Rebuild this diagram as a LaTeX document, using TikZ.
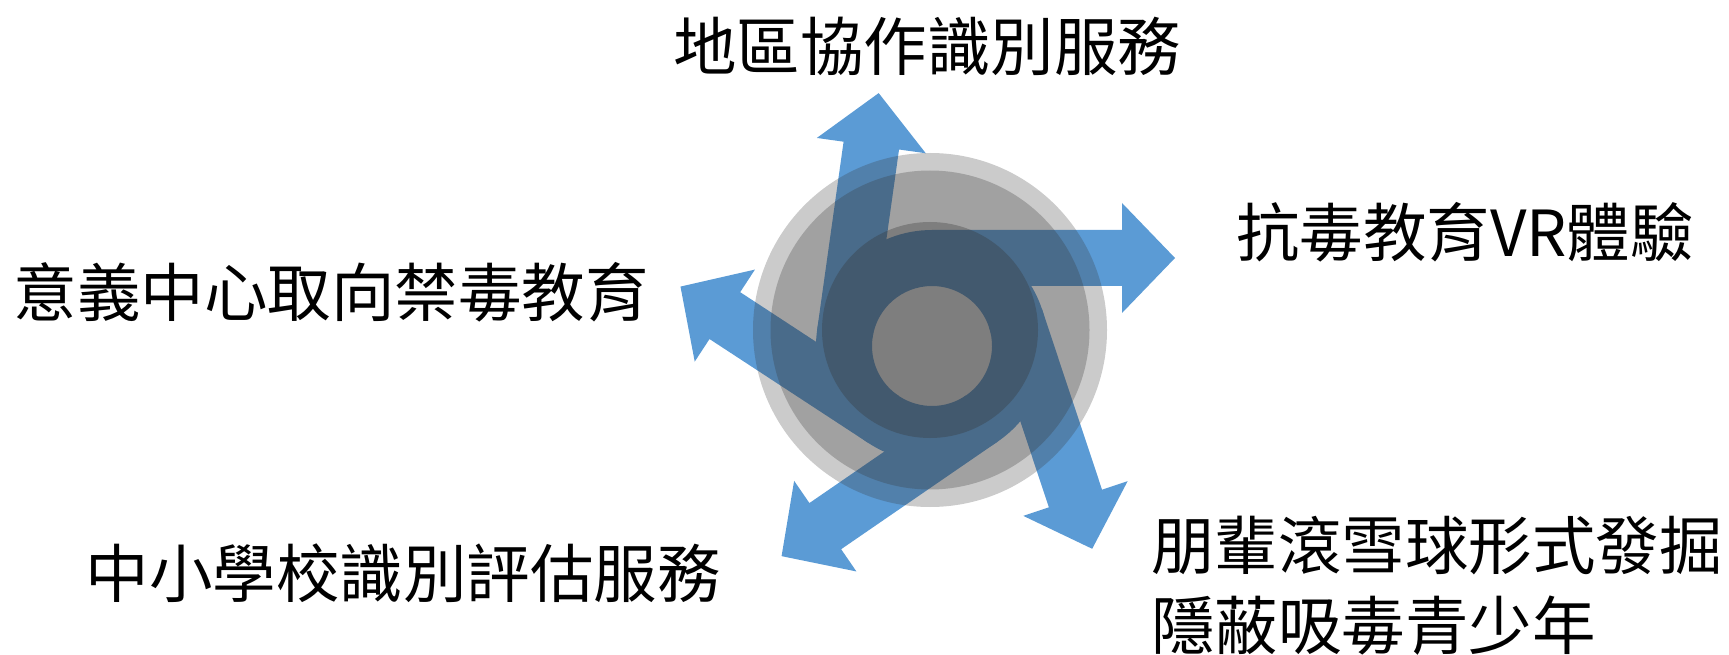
\documentclass[tikz,border=0pt]{standalone}
\usepackage{fontspec}
\newfontfamily\cjk{Noto Sans CJK TC}
\usetikzlibrary{calc}
\definecolor{armblue}{HTML}{5B9BD5}
\definecolor{shadegray}{HTML}{363636}
\tikzset{
  armfill/.style={fill=armblue},
  ring/.style={fill=shadegray},
  label/.style={font=\cjk\fontsize{63.5}{80}\selectfont, text=black, inner sep=0pt},
}
% arm geometry (px = pt)
\def\rin{60}
\def\rout{116}
\def\rmid{88}
\def\rhi{143}
\def\rlo{33}
\def\shaftlen{190}
\def\tiplen{243}
% #1 start angle of the curved part, #2 tangent angle where the straight shaft begins
\newcommand\pinarm[2]{%
  \pgfmathsetmacro\dirang{#2-90}%
  \fill[armfill] ($(C)+(#1:\rout)$) arc[start angle=#1, end angle=#2, radius=\rout]
    -- ($(C)+(#2:\rout)+(\dirang:\shaftlen)$)
    -- ($(C)+(#2:\rhi)+(\dirang:\shaftlen)$)
    -- ($(C)+(#2:\rmid)+(\dirang:\tiplen)$)
    -- ($(C)+(#2:\rlo)+(\dirang:\shaftlen)$)
    -- ($(C)+(#2:\rin)+(\dirang:\shaftlen)$)
    -- ($(C)+(#2:\rin)$)
    arc[start angle=#2, end angle=#1, radius=\rin]
    -- cycle;
}
\begin{document}
\begin{tikzpicture}[x=1pt, y=1pt]
\useasboundingbox (0,0) rectangle (1729,654);
\coordinate (C) at (932,308);
\coordinate (O) at (930,324);
% five curved arrows (pinwheel)
\pinarm{172}{90}
\pinarm{90}{18.4}
\pinarm{18.4}{-55.5}
\pinarm{-55.5}{-123.2}
\pinarm{-123.2}{-188}
% translucent grey discs on top
\fill[ring, fill opacity=0.26] (O) circle[radius=177];
\fill[ring, fill opacity=0.28] (O) circle[radius=159.5];
\fill[ring, fill opacity=0.33] (O) circle[radius=108];
% labels
\node[label] (t1) at (927,608) {地區協作識別服務};
\node[label] (t2) at (1465,421.5) {抗毒教育VR體驗};
\node[label] (t3) at (331,361.5) {意義中心取向禁毒教育};
\node[label] (t4) at (403,81) {中小學校識別評估服務};
\node[label, anchor=west, align=left] (t5) at (1151,68) {朋輩滾雪球形式發掘\\隱蔽吸毒青少年};
\end{tikzpicture}
\end{document}
